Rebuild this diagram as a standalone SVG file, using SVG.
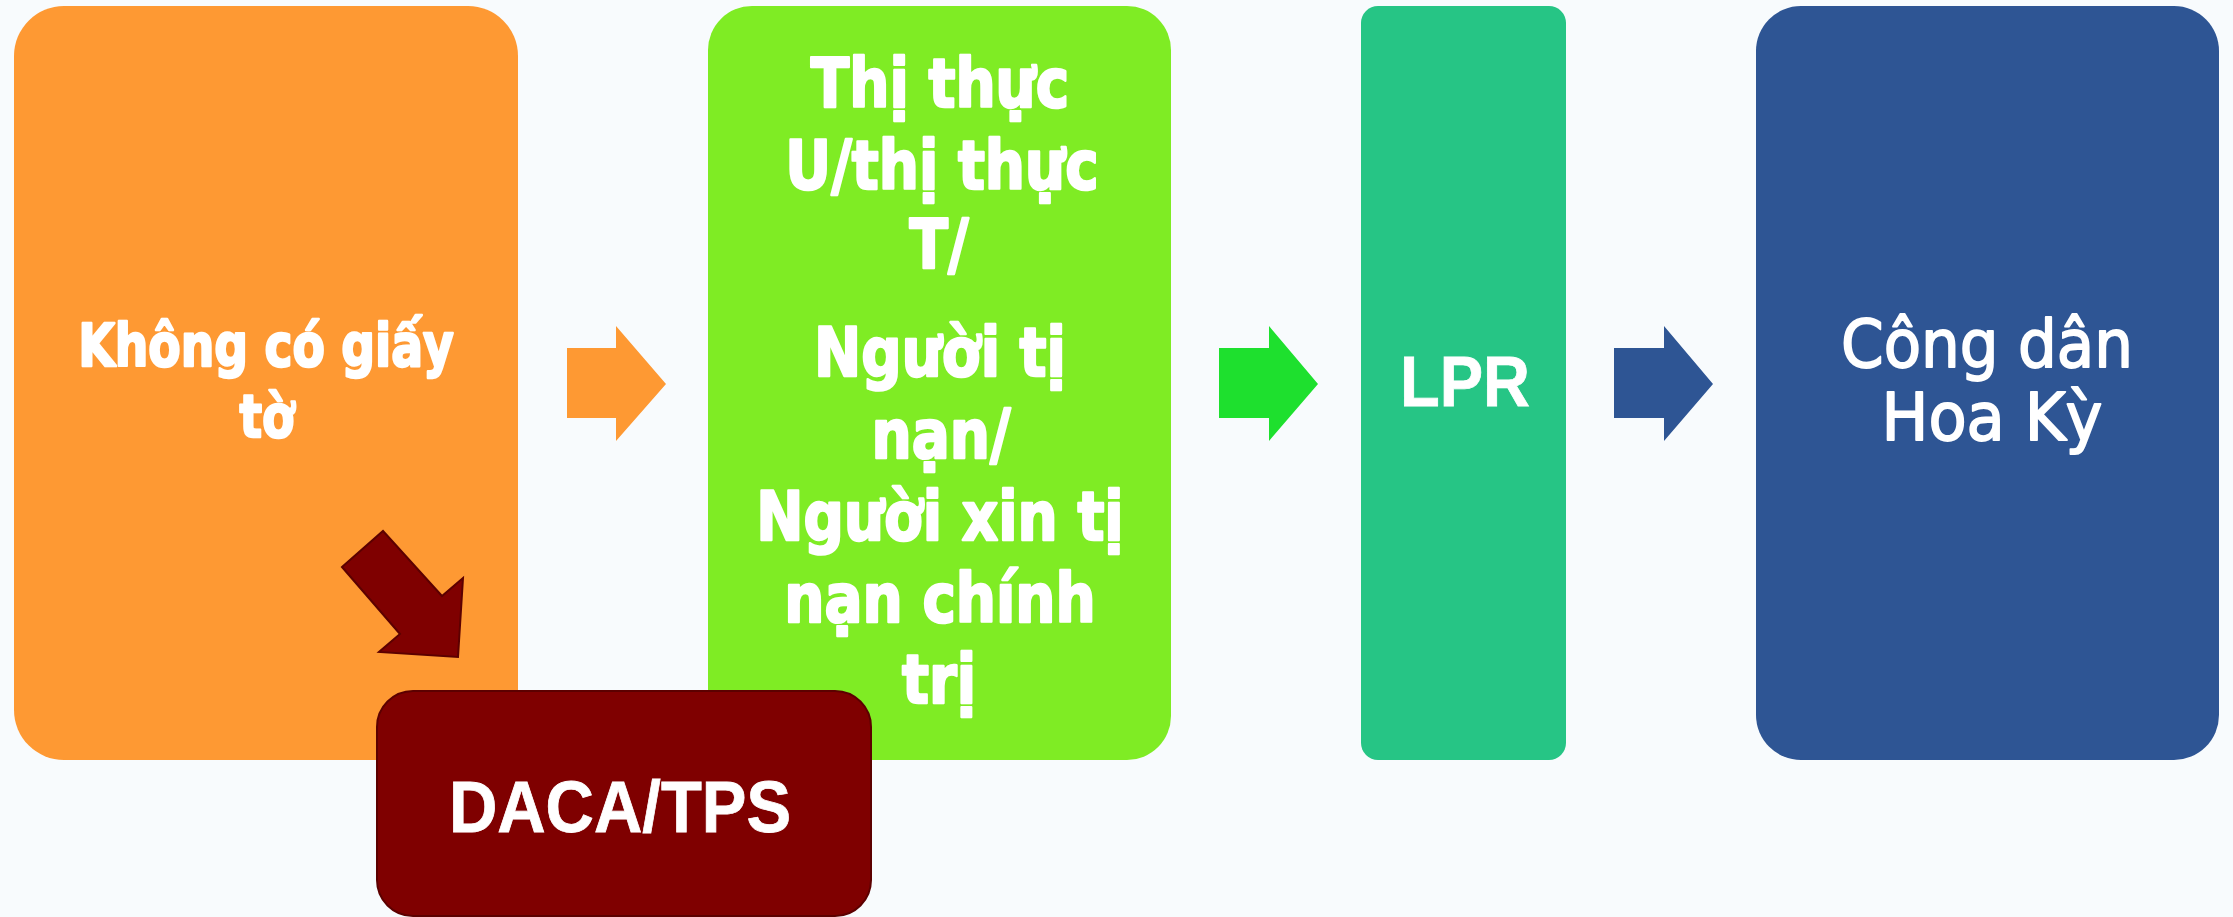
<svg xmlns="http://www.w3.org/2000/svg" width="2233" height="917" viewBox="0 0 2233 917">
  <style>
    .bold { font-family: "DejaVu Sans", sans-serif; font-weight: 700; fill: #ffffff; stroke: #ffffff; stroke-width: 2.5; stroke-linejoin: round; text-anchor: middle; }
    .reg { font-family: "DejaVu Sans", sans-serif; font-weight: 400; fill: #ffffff; stroke: #ffffff; stroke-width: 1.8; stroke-linejoin: round; text-anchor: middle; }
    .arial { font-family: "Liberation Sans", Arial, sans-serif; font-weight: 700; fill: #ffffff; stroke: #ffffff; stroke-width: 0.8; text-anchor: middle; }
  </style>
  <rect x="0" y="0" width="2233" height="917" fill="#f8fbfd"/>

  <g id="node-undocumented">
    <rect x="14" y="6" width="504" height="754" rx="50" ry="50" fill="#fe9933"/>
    <text class="bold" font-size="59" transform="translate(266,366) scale(0.8,1)">Không có giấy</text>
    <text class="bold" font-size="59" transform="translate(267,437) scale(0.8,1)">tờ</text>
  </g>

  <g id="node-visa">
    <rect x="708" y="6" width="463" height="754" rx="44" ry="44" fill="#7fec24"/>
    <text class="bold" font-size="68" transform="translate(940,107) scale(0.83,1)">Thị thực</text>
    <text class="bold" font-size="68" transform="translate(942,189) scale(0.83,1)">U/thị thực</text>
    <text class="bold" font-size="68" transform="translate(939,268) scale(0.83,1)">T/</text>
    <text class="bold" font-size="68" transform="translate(940,376) scale(0.83,1)">Người tị</text>
    <text class="bold" font-size="68" transform="translate(941,458) scale(0.83,1)">nạn/</text>
    <text class="bold" font-size="68" transform="translate(940,540) scale(0.83,1)">Người xin tị</text>
    <text class="bold" font-size="68" transform="translate(940,622) scale(0.83,1)">nạn chính</text>
    <text class="bold" font-size="68" transform="translate(939,703) scale(0.83,1)">trị</text>
  </g>

  <g id="node-lpr">
    <rect x="1361" y="6" width="205" height="754" rx="17" ry="17" fill="#26c585"/>
    <text class="arial" font-size="71" transform="translate(1465,406) scale(0.915,1)">LPR</text>
  </g>

  <g id="node-citizen">
    <rect x="1756" y="6" width="463" height="754" rx="45" ry="45" fill="#2e5594"/>
    <text class="reg" font-size="65" transform="translate(1987,367) scale(0.94,1)">Công dân</text>
    <text class="reg" font-size="65" transform="translate(1992,440) scale(0.96,1)">Hoa Kỳ</text>
  </g>

  <g id="connectors">
    <polygon points="567,348 616,348 616,326 666,384 616,441 616,418 567,418" fill="#fe9933"/>
    <polygon points="1219,348 1269,348 1269,326 1318,384 1269,441 1269,418 1219,418" fill="#1ee02e"/>
    <polygon points="1614,348 1664,348 1664,326 1713,384 1664,441 1664,418 1614,418" fill="#2e5594"/>
    <polygon points="342,567 383,531 442,596 463,578 458,657 379,652 400,634" fill="#7f0000" stroke="#5c0000" stroke-width="2" stroke-linejoin="miter"/>
  </g>

  <g id="node-daca">
    <rect x="377" y="691" width="494" height="225" rx="36" ry="36" fill="#7f0000" stroke="#5c0000" stroke-width="2"/>
    <text class="arial" font-size="72" transform="translate(620,832) scale(0.93,1)">DACA/TPS</text>
  </g>
</svg>
